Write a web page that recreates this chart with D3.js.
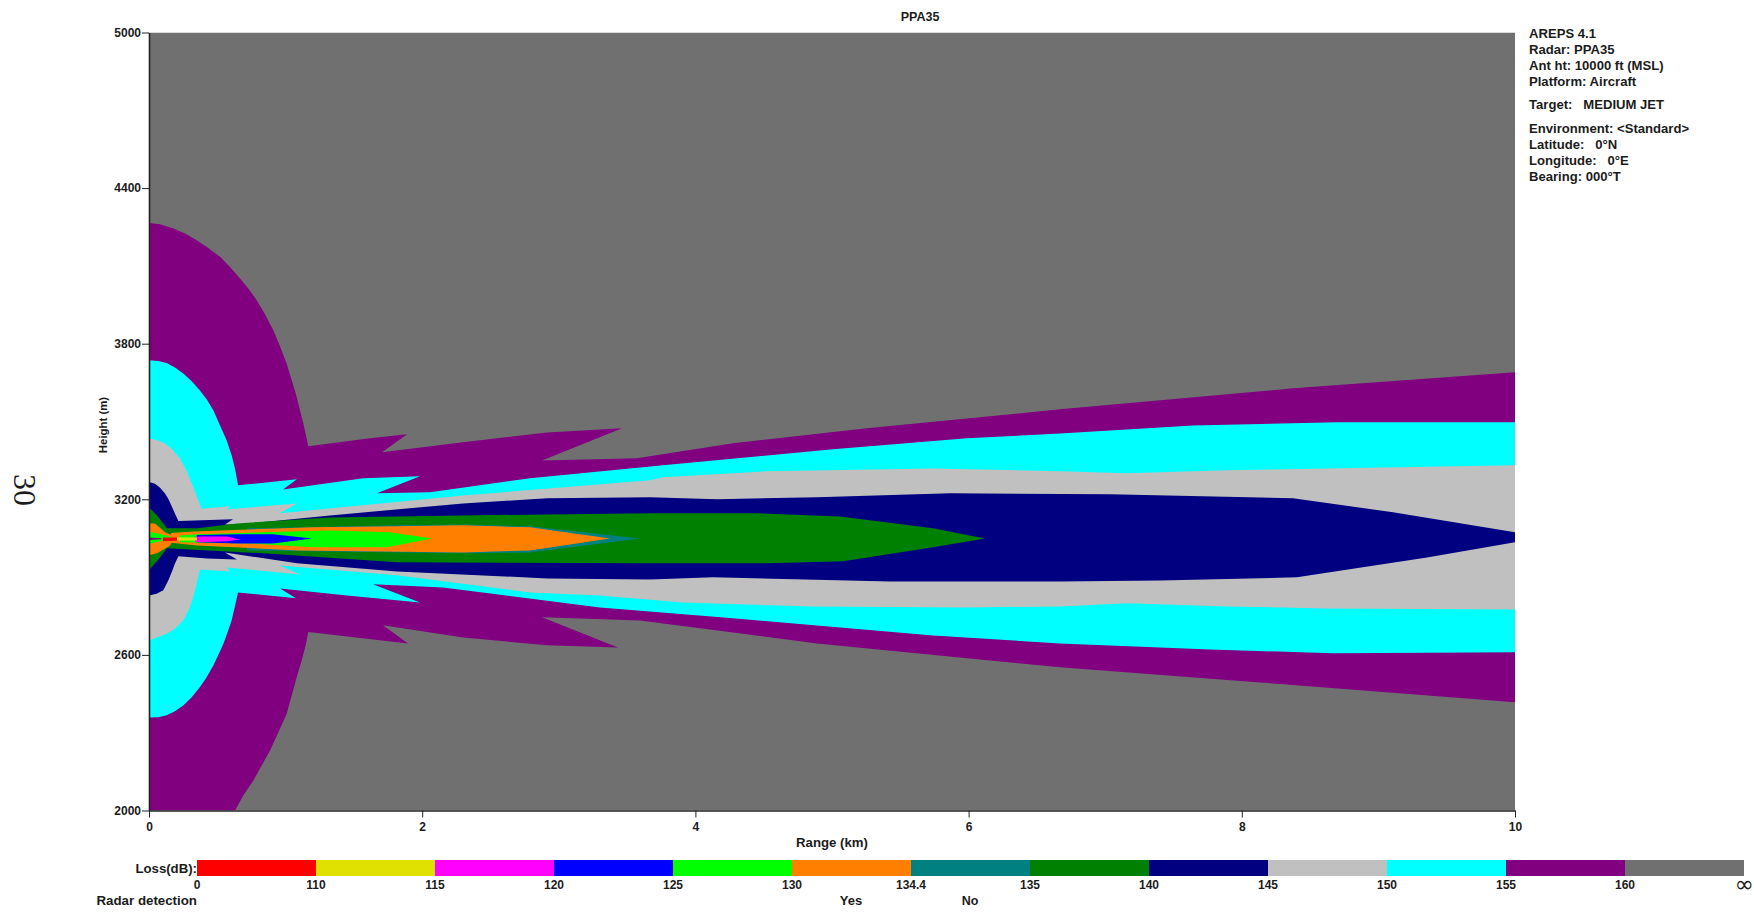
<!DOCTYPE html>
<html><head><meta charset="utf-8">
<script src="https://cdn.jsdelivr.net/npm/d3@7"></script>
<style>
html,body{margin:0;padding:0;background:#fff;overflow:hidden}
svg{display:block}
text{font-family:"Liberation Sans",Arial,sans-serif;font-weight:bold;font-size:12px;fill:#1c1c1c}
</style></head><body><div id="chart"></div>
<script>
// ---- Data: contour boundaries as [range km, height m] ----
const purpleUpper=[[0,4265],[.081,4261],[.178,4244],[.264,4225],[.349,4199],[.434,4169],[.52,4135],[.593,4096],[.666,4051],[.727,4013],[.788,3968],[.849,3914],[.91,3852],[.959,3790],[1.008,3723],[1.045,3659],[1.081,3595],[1.105,3543],[1.13,3492],[1.149,3447],[1.166,3405],[1.618,3435],[1.889,3451],[1.706,3381],[2.299,3420],[2.914,3458],[3.463,3474],[2.877,3350],[3.572,3358],[4.275,3416],[5.256,3474],[6.669,3547],[8.375,3628],[10,3690]];
const purpleLower=[[0,2000],[.63,2000],[.69,2058],[.764,2116],[.825,2174],[.886,2231],[.947,2302],[1.008,2373],[1.045,2444],[1.081,2514],[1.118,2579],[1.147,2637],[1.166,2688],[1.896,2644],[1.713,2714],[2.299,2667],[2.914,2637],[3.433,2629],[2.877,2745],[3.594,2733],[4.89,2644],[6.669,2552],[8.133,2494],[10,2417]];
const cyanUpper=[[0,3736],[.068,3733],[.13,3726],[.19,3708],[.251,3685],[.313,3655],[.373,3620],[.422,3586],[.471,3543],[.52,3485],[.569,3427],[.605,3370],[.63,3318],[.652,3254],[1.083,3277],[.981,3238],[1.567,3281],[1.984,3289],[1.669,3223],[2.057,3227],[2.789,3281],[3.763,3331],[5.007,3393],[5.988,3435],[6.669,3454],[7.643,3485],[8.697,3497],[10,3497]];
const cyanLower=[[0,2359],[.068,2360],[.13,2367],[.19,2383],[.251,2405],[.313,2437],[.373,2476],[.422,2514],[.471,2559],[.508,2601],[.545,2643],[.576,2688],[.605,2733],[.652,2841],[1.076,2818],[.959,2856],[1.449,2829],[1.984,2802],[1.64,2872],[2.152,2860],[3.302,2783],[4.275,2741],[5.739,2675],[6.669,2644],[7.767,2621],[8.668,2606],[10,2610]];
const silverUpper=[[0,3434],[.068,3427],[.117,3415],[.166,3395],[.227,3357],[.276,3309],[.324,3247],[.361,3196],[.386,3164],[.593,3173],[.571,3161],[1.083,3184],[.959,3146],[2.299,3215],[3.668,3273],[3.763,3285],[4.524,3308],[5.739,3319],[6.669,3308],[7.16,3300],[7.892,3312],[10,3331]];
const silverLower=[[0,2656],[.068,2669],[.13,2682],[.19,2701],[.251,2733],[.295,2778],[.324,2823],[.349,2875],[.373,2929],[.593,2922],[.571,2937],[1.105,2910],[.959,2945],[1.816,2907],[2.789,2841],[3.302,2829],[3.909,2802],[4.861,2787],[5.988,2783],[6.669,2787],[7.16,2799],[7.892,2787],[8.624,2779],[10,2775]];
const navyUpper=[[0,3267],[.044,3260],[.081,3245],[.117,3222],[.141,3202],[.166,3173],[.19,3145],[.215,3116],[.615,3123],[.556,3103],[.666,3103],[1.325,3138],[2.299,3184],[2.914,3204],[3.668,3208],[4.158,3200],[4.89,3208],[5.864,3223],[7.035,3219],[8.375,3204],[9.107,3150],[10,3073]];
const navyLower=[[0,2829],[.056,2836],[.105,2849],[.141,2887],[.166,2919],[.19,2952],[.215,2980],[.425,2972],[.644,2968],[.556,2995],[1.083,2953],[1.816,2922],[2.914,2895],[3.668,2891],[4.129,2899],[5.425,2883],[6.669,2883],[7.401,2887],[8.404,2899],[9.356,2976],[10,3034]];
const greenUpper=[[0,3169],[.059,3138],[.132,3088],[.351,3088],[.644,3107],[1.325,3130],[2.299,3138],[3.668,3146],[4.451,3146],[5.059,3134],[5.739,3088],[6.12,3049]];
const greenLower=[[0,2926],[.081,2976],[.132,3011],[.835,2992],[1.816,2957],[3.668,2953],[4.524,2953],[5.081,2961],[5.739,3015],[6.12,3049]];
const tealUpper=[[.717,3088],[1.816,3100],[2.299,3103],[2.789,3096],[3.594,3049]];
const tealLower=[[.717,3003],[2.299,2992],[2.789,2995],[3.594,3049]];
const orangeUpper=[[.16,3070],[.322,3076],[1.201,3092],[1.816,3096],[2.299,3100],[2.789,3092],[3.375,3049]];
const orangeLower=[[.16,3032],[.351,3022],[1.083,3003],[2.299,2995],[2.789,3003],[3.375,3049]];
const orangeNozzleUpper=[[0,3107],[.044,3107],[.117,3073],[.19,3057]];
const orangeNozzleLower=[[0,2984],[.059,2992],[.154,3022],[.19,3057]];
const limeUpper=[[.227,3060],[.351,3065],[.835,3073],[1.325,3080],[1.764,3073],[2.072,3049]];
const limeLower=[[.227,3034],[.717,3030],[1.201,3015],[1.742,3015],[2.072,3049]];
const limeNozzleUpper=[[0,3075],[.07,3068],[.16,3056]];
const limeNozzleLower=[[0,3028],[.07,3036],[.16,3047]];
const coreUpper=[[0,3053],[.09,3050]];
const coreLower=[[0,3043],[.09,3046]];
const blueUpper=[[.35,3062],[.644,3065],[.908,3065],[1.193,3049]];
const blueLower=[[.35,3034],[.644,3030],[.908,3030],[1.193,3049]];
const magentaUpper=[[.337,3056],[.373,3057],[.571,3057],[.666,3045]];
const magentaLower=[[.337,3036],[.373,3034],[.571,3038],[.666,3045]];
const yellowUpper=[[.205,3053],[.351,3053]];
const yellowLower=[[.205,3041],[.351,3041]];
const redUpper=[[.102,3053],[.205,3053]];
const redLower=[[.102,3038],[.205,3040]];

const contourStack=[
 ["#800080",purpleUpper,purpleLower],["#00ffff",cyanUpper,cyanLower],["#c0c0c0",silverUpper,silverLower],
 ["#000080",navyUpper,navyLower],["#008000",greenUpper,greenLower],["#008080",tealUpper,tealLower],
 ["#ff8000",orangeUpper,orangeLower],["#ff8000",orangeNozzleUpper,orangeNozzleLower],
 ["#00ff00",limeUpper,limeLower],["#00ff00",limeNozzleUpper,limeNozzleLower],
 ["#800080",coreUpper,coreLower],
 ["#0000ff",blueUpper,blueLower],["#ff00ff",magentaUpper,magentaLower],
 ["#e1e100",yellowUpper,yellowLower],["#ff0000",redUpper,redLower]];

const backgroundColor="#707070";
const xTicks=[0,2,4,6,8,10];
const yTicks=[2000,2600,3200,3800,4400,5000];
const legendColors=["#ff0000","#e1e100","#ff00ff","#0000ff","#00ff00","#ff8000","#008080","#008000","#000080","#c0c0c0","#00ffff","#800080","#707070"];
const legendLabels=["0","110","115","120","125","130","134.4","135","140","145","150","155","160","∞"];
const infoBlocks=[["AREPS 4.1","Radar: PPA35","Ant ht: 10000 ft (MSL)","Platform: Aircraft"],["Target:   MEDIUM JET"],["Environment: <Standard>","Latitude:   0°N","Longitude:   0°E","Bearing: 000°T"]];

// ---- Drawing ----
const W=1754,H=916;
const svg=d3.select("#chart").append("svg").attr("width",W).attr("height",H).attr("viewBox",`0 0 ${W} ${H}`);
const x=d3.scaleLinear().domain([0,10]).range([149,1515]);
const y=d3.scaleLinear().domain([2000,5000]).range([810.5,32.5]);

svg.append("defs").append("clipPath").attr("id","plot").append("rect")
  .attr("x",x(0)).attr("y",y(5000)).attr("width",x(10)-x(0)).attr("height",y(2000)-y(5000));
const plot=svg.append("g").attr("clip-path","url(#plot)");
plot.append("rect").attr("x",x(0)).attr("y",y(5000)).attr("width",x(10)-x(0)).attr("height",y(2000)-y(5000)).attr("fill",backgroundColor);
const line=d3.line().x(d=>x(d[0])).y(d=>y(d[1]));
plot.selectAll("path.contour").data(contourStack).join("path").attr("class","contour")
  .attr("fill",d=>d[0])
  .attr("d",d=>line(d[1].concat(d[2].slice().reverse()))+"Z");

const xAxis=svg.append("g").attr("transform",`translate(0,${y(2000)})`)
  .call(d3.axisBottom(x).tickValues(xTicks).tickSize(7).tickSizeOuter(0).tickFormat(d3.format("d")));
const yAxis=svg.append("g").attr("transform",`translate(${x(0)},0)`)
  .call(d3.axisLeft(y).tickValues(yTicks).tickSize(7).tickSizeOuter(0).tickFormat(d3.format("d")));
for(const a of [xAxis,yAxis]){
  a.attr("font-family",null).attr("font-size",null);
  a.selectAll("path.domain").attr("stroke","#222").attr("stroke-width",1.6);
  a.selectAll("line").attr("stroke","#222");
  a.selectAll("text").attr("fill",null);
}
xAxis.selectAll("text").attr("dy",null).attr("y",20);
yAxis.selectAll("text").attr("x",-8);

function label(t,px,py,size,anchor,rot){
  const e=svg.append("text").attr("text-anchor",anchor||"middle").attr("x",px).attr("y",py).style("font-size",size+"px").text(t);
  if(rot) e.attr("transform",`rotate(${rot} ${px} ${py})`);
  return e;
}
label("PPA35",920,21,12.5);
label("Range (km)",832,847,13.2);
label("Height (m)",107,425,11.4,"middle",-90);
label("Loss(dB):",197,873,13.2,"end");
label("Radar detection",197,905,13.3,"end");
label("Yes",851,905,13);
label("No",970,905,12.5);
label("30",14,490,32,"middle",90).style("font-family","'Liberation Serif',serif").style("font-weight","normal");

// Colour bar
const lx=d3.scaleLinear().domain([0,legendColors.length]).range([197,1744]);
svg.append("g").selectAll("rect").data(legendColors).join("rect")
  .attr("x",(d,i)=>lx(i)).attr("y",860).attr("width",(d,i)=>lx(i+1)-lx(i)).attr("height",16).attr("fill",d=>d);
svg.append("g").selectAll("text").data(legendLabels).join("text")
  .attr("text-anchor","middle").attr("x",(d,i)=>lx(i)).attr("y",d=>d==="∞"?892:889)
  .text(d=>d).each(function(d){ if(d==="∞") d3.select(this).style("font-size","23px").style("font-family","'DejaVu Sans',sans-serif").style("font-weight","normal"); });

// Info block
let iy=37.5;
infoBlocks.forEach(b=>{
  b.forEach(t=>{ svg.append("text").attr("x",1529).attr("y",iy).style("font-size","13.1px").style("white-space","pre").text(t); iy+=16.2; });
  iy+=7;
});
</script></body></html>
